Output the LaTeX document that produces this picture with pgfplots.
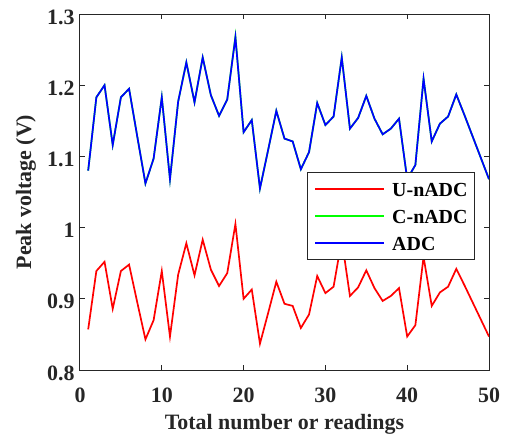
\documentclass[border=0pt]{standalone}
\usepackage{fontspec}
\setmainfont{Liberation Serif}
\usepackage{pgfplots}
\pgfplotsset{compat=1.18}
\definecolor{axgray}{RGB}{38,38,38}
\begin{document}
\begin{tikzpicture}
\useasboundingbox (-80bp,-71bp) rectangle (429bp,370bp);
\begin{axis}[
  at={(0,0)}, anchor=south west,
  scale only axis, width=409bp, height=356bp,
  xmin=0, xmax=50, ymin=0.8, ymax=1.3,
  xtick={0,10,20,30,40,50},
  ytick={0.8,0.9,1,1.1,1.2,1.3},
  tick align=inside, xtick pos=both, ytick pos=both,
  major tick length=5bp,
  axis line style={axgray, line width=1bp},
  every tick/.style={axgray, line width=1bp},
  /pgf/number format/assume math mode=true,
  tick label style={font=\fontsize{22}{26}\selectfont\bfseries, text=axgray},
  xticklabel style={anchor=center, yshift=-25bp},
  yticklabel style={anchor=east, xshift=-2bp, yshift=-3bp},
  xlabel={Total number or readings},
  ylabel={Peak voltage (V)},
  every axis x label/.style={at={(axis description cs:0.5,0)}, anchor=center, yshift=-54bp,
    font=\fontsize{22}{26}\selectfont\bfseries, text=axgray},
  every axis y label/.style={at={(axis description cs:0,0.5)}, anchor=center, xshift=-54bp, rotate=90,
    font=\fontsize{22}{26}\selectfont\bfseries, text=axgray},
  legend style={at={(axis description cs:0.9658,0.5562)}, anchor=north east,
    draw=axgray, line width=1bp, fill=white,
    font=\fontsize{20}{24}\selectfont\bfseries,
    inner xsep=7bp, inner ysep=3bp, row sep=0bp, column sep=7bp,
    nodes={inner sep=0bp, text height=20.7bp, text depth=6.3bp}},
  legend cell align=left,
  legend image code/.code={\path (0bp,0bp) -- (6bp,0bp); \draw[#1] (6bp,0bp) -- (69bp,0bp);},
]
\addplot[red, line width=1.7bp] coordinates {
(1,0.857) (2,0.939) (3,0.952) (4,0.886) (5,0.939) (6,0.948) (7,0.895) (8,0.843) (9,0.870) (10,0.939)
(11,0.847) (12,0.934) (13,0.978) (14,0.933) (15,0.983) (16,0.941) (17,0.918) (18,0.936) (19,1.005) (20,0.900)
(21,0.913) (22,0.837) (23,0.880) (24,0.924) (25,0.893) (26,0.890) (27,0.859) (28,0.878) (29,0.932) (30,0.908)
(31,0.917) (32,0.983) (33,0.904) (34,0.916) (35,0.940) (36,0.915) (37,0.897) (38,0.904) (39,0.915) (40,0.847)
(41,0.863) (42,0.959) (43,0.890) (44,0.909) (45,0.917) (46,0.942) (47,0.919) (48,0.895) (49,0.871) (50,0.847)
};
\addlegendentry{U-nADC}
\addplot[color={rgb,1:red,0;green,1;blue,0}, line width=1.7bp] coordinates {
(1,1.080) (2,1.183) (3,1.200) (4,1.116) (5,1.183) (6,1.195) (7,1.128) (8,1.062) (9,1.097) (10,1.183)
(11,1.068) (12,1.177) (13,1.232) (14,1.176) (15,1.239) (16,1.186) (17,1.157) (18,1.180) (19,1.2685) (20,1.134)
(21,1.151) (22,1.055) (23,1.109) (24,1.164) (25,1.125) (26,1.121) (27,1.082) (28,1.106) (29,1.175) (30,1.144)
(31,1.156) (32,1.239) (33,1.139) (34,1.154) (35,1.185) (36,1.153) (37,1.131) (38,1.139) (39,1.153) (40,1.068)
(41,1.088) (42,1.209) (43,1.121) (44,1.146) (45,1.156) (46,1.187) (47,1.158) (48,1.128) (49,1.098) (50,1.068)
};
\addlegendentry{C-nADC}
\addplot[blue, line width=1.7bp] coordinates {
(1,1.080) (2,1.183) (3,1.200) (4,1.116) (5,1.183) (6,1.195) (7,1.128) (8,1.062) (9,1.097) (10,1.183)
(11,1.068) (12,1.177) (13,1.232) (14,1.176) (15,1.239) (16,1.186) (17,1.157) (18,1.180) (19,1.267) (20,1.134)
(21,1.151) (22,1.055) (23,1.109) (24,1.164) (25,1.125) (26,1.121) (27,1.082) (28,1.106) (29,1.175) (30,1.144)
(31,1.156) (32,1.239) (33,1.139) (34,1.154) (35,1.185) (36,1.153) (37,1.131) (38,1.139) (39,1.153) (40,1.068)
(41,1.088) (42,1.209) (43,1.121) (44,1.146) (45,1.156) (46,1.187) (47,1.158) (48,1.128) (49,1.098) (50,1.068)
};
\addlegendentry{ADC}
\end{axis}
\end{tikzpicture}
\end{document}
